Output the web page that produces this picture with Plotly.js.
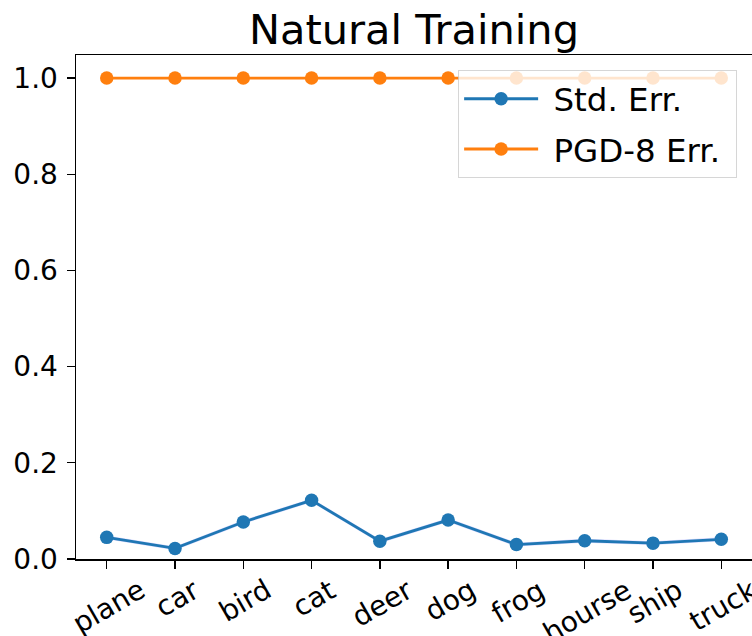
<!DOCTYPE html>
<html>
<head>
<meta charset="utf-8">
<script src="https://cdn.plot.ly/plotly-3.0.1.min.js"></script>
<style>html,body{margin:0;padding:0;background:#fff;}#chart{width:752px;height:636px;}</style>
</head>
<body>
<div id="chart"></div>
<script>
const categories = ["plane", "car", "bird", "cat", "deer", "dog", "frog", "hourse", "ship", "truck"];
const stdErr = [0.045, 0.022, 0.077, 0.122, 0.037, 0.081, 0.030, 0.038, 0.033, 0.041];
const stdErrLow = [0.041, 0.018, 0.073, 0.118, 0.033, 0.077, 0.026, 0.034, 0.029, 0.037];
const stdErrHigh = [0.049, 0.026, 0.081, 0.126, 0.041, 0.085, 0.034, 0.042, 0.037, 0.045];
const pgdErr = [1.0, 1.0, 1.0, 1.0, 1.0, 1.0, 1.0, 1.0, 1.0, 1.0];
const seriesNames = ["Std. Err.", "PGD-8 Err."];
const yTicks = [0.0, 0.2, 0.4, 0.6, 0.8, 1.0];
const yTickLabels = ["0.0", "0.2", "0.4", "0.6", "0.8", "1.0"];

const xIdx = categories.map((c, i) => i);
const FONT = "DejaVu Sans, sans-serif";
const NB = "\u00a0";

const traces = [
  {x: xIdx, y: stdErrLow, type: "scatter", mode: "lines", line: {width: 0, color: "rgba(0,0,0,0)"}, showlegend: false, hoverinfo: "skip"},
  {x: xIdx, y: stdErrHigh, type: "scatter", mode: "lines", fill: "tonexty", fillcolor: "rgba(110,110,255,0.25)", line: {width: 0, color: "rgba(0,0,0,0)"}, showlegend: false, hoverinfo: "skip"},
  {x: xIdx, y: stdErr, type: "scatter", mode: "lines+markers", name: NB + seriesNames[0] + NB, line: {color: "#1f77b4", width: 2.8}, marker: {color: "#1f77b4", size: 13.5}, legendgroup: "a"},
  {x: xIdx, y: pgdErr, type: "scatter", mode: "lines+markers", name: NB + seriesNames[1] + NB, line: {color: "#ff7f0e", width: 2.8}, marker: {color: "#ff7f0e", size: 13.5}, legendgroup: "b"}
];

// category labels rotated and centred under their ticks (placed through the x axis scale)
const xLabelAnnotations = categories.map((c, i) => ({
  x: i, xref: "x", y: 0, yref: "paper", text: c, showarrow: false,
  textangle: -30, xanchor: "center", yanchor: "top", yshift: -11, xshift: 2,
  font: {family: FONT, size: 28, color: "#000"}
}));

const layout = {
  width: 752, height: 636,
  margin: {l: 76, r: 0, t: 55, b: 77, pad: 0},
  paper_bgcolor: "#fff", plot_bgcolor: "#fff",
  font: {family: FONT, color: "#000"},
  title: {text: "Natural Training", font: {family: FONT, size: 41.5, color: "#000"}, x: 0.5, xref: "paper", y: 1, yref: "paper", yanchor: "bottom", pad: {b: 11}},
  showlegend: true,
  legend: {x: 0.978, xanchor: "right", y: 0.97, yanchor: "top", bgcolor: "rgba(255,255,255,0.8)", bordercolor: "rgba(204,204,204,0.8)", borderwidth: 1, font: {family: FONT, size: 32.5, color: "#000"}, traceorder: "grouped", tracegroupgap: 5, itemwidth: 74},
  annotations: xLabelAnnotations,
  xaxis: {
    range: [-0.45, 9.45], tickmode: "array", tickvals: xIdx, ticktext: categories, showticklabels: false,
    ticks: "outside", ticklen: 8, tickwidth: 1.3, tickcolor: "#000",
    showline: true, linecolor: "#000", linewidth: 1.5, mirror: true, showgrid: false, zeroline: false
  },
  yaxis: {
    range: [0, 1.048], tickmode: "array", tickvals: yTicks, ticktext: yTickLabels,
    ticks: "outside", ticklen: 8, tickwidth: 1.3, tickcolor: "#000", ticklabelstandoff: 3,
    showline: true, linecolor: "#000", linewidth: 1.5, mirror: false, showgrid: false, zeroline: false,
    tickfont: {family: FONT, size: 28, color: "#000"}
  }
};

Plotly.newPlot("chart", traces, layout, {displayModeBar: false, staticPlot: true});
</script>
</body>
</html>
